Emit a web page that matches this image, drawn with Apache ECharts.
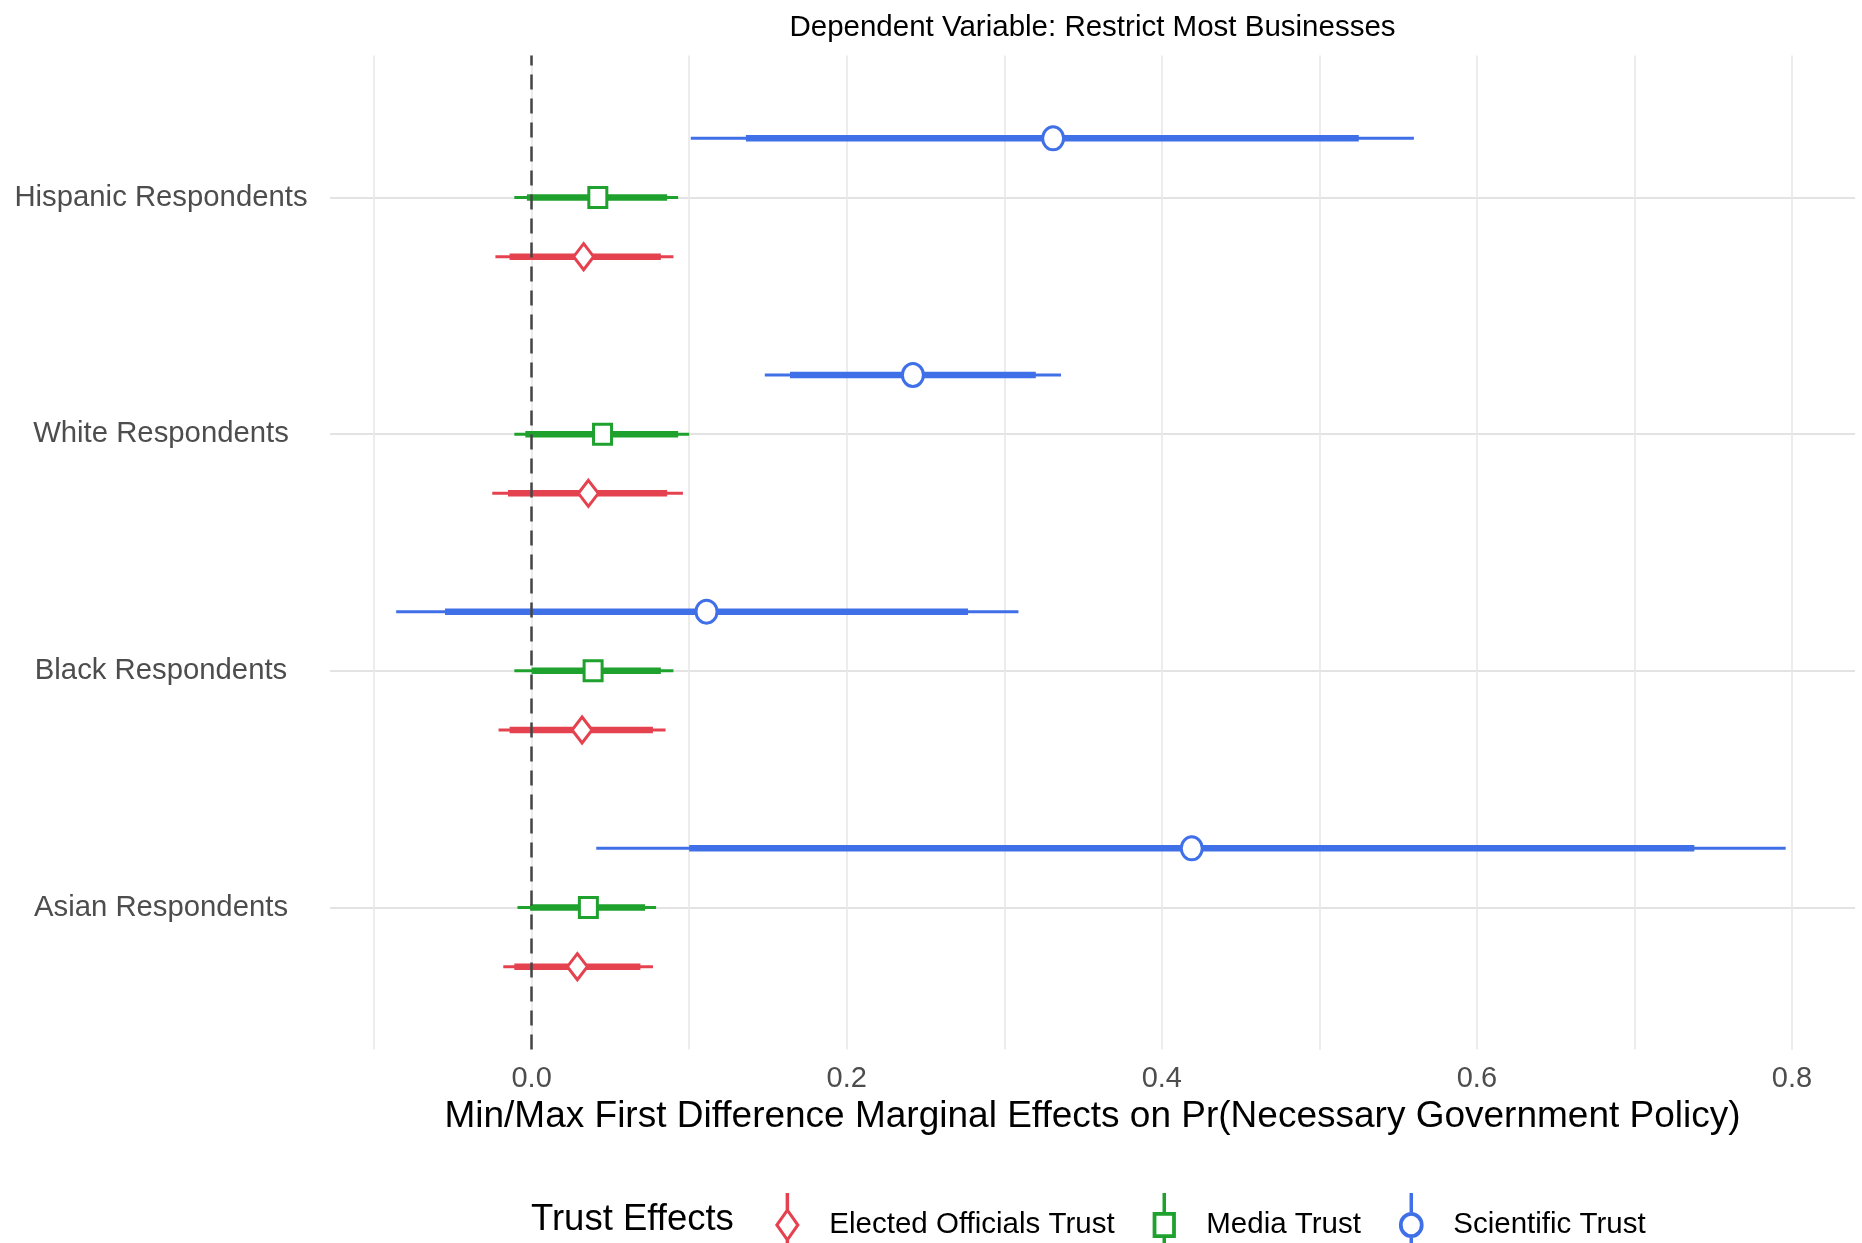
<!DOCTYPE html>
<html><head><meta charset="utf-8">
<script src="https://cdn.jsdelivr.net/npm/echarts@6/dist/echarts.min.js"></script>
<style>html,body{margin:0;padding:0;background:#fff}#chart{width:1862px;height:1243px}</style>
</head><body><div id="chart"></div>
<script>
// ---- data ----
const groups = ['Asian Respondents', 'Black Respondents', 'White Respondents', 'Hispanic Respondents'];
const groupPos = [1, 2, 3, 4];
const xGridTicks = [-0.1, 0, 0.1, 0.2, 0.3, 0.4, 0.5, 0.6, 0.7, 0.8];
const xTickLabels = [0, 0.2, 0.4, 0.6, 0.8];
const seriesNames = ['Elected Officials Trust', 'Media Trust', 'Scientific Trust'];

const electedEst  = [0.029, 0.032, 0.036, 0.033];
const electedLo95 = [-0.018, -0.021, -0.025, -0.023];
const electedHi95 = [0.077, 0.085, 0.096, 0.090];
const electedLo90 = [-0.011, -0.014, -0.015, -0.014];
const electedHi90 = [0.069, 0.077, 0.086, 0.082];

const mediaEst  = [0.036, 0.039, 0.045, 0.042];
const mediaLo95 = [-0.009, -0.011, -0.011, -0.011];
const mediaHi95 = [0.079, 0.090, 0.100, 0.093];
const mediaLo90 = [-0.001, 0.000, -0.004, -0.003];
const mediaHi90 = [0.072, 0.082, 0.093, 0.086];

const sciEst  = [0.419, 0.111, 0.242, 0.331];
const sciLo95 = [0.041, -0.086, 0.148, 0.101];
const sciHi95 = [0.796, 0.309, 0.336, 0.560];
const sciLo90 = [0.100, -0.055, 0.164, 0.136];
const sciHi90 = [0.738, 0.277, 0.320, 0.525];

// ---- styles ----
const colors = ['#E5424F', '#1EA12D', '#4070E8'];
const dodge = [-0.25, 0, 0.25];
const shapes = ['diamond', 'square', 'circle'];

function buildData(est, lo95, hi95, lo90, hi90) {
  return groupPos.map((p, i) => [p, est[i], lo95[i], hi95[i], lo90[i], hi90[i]]);
}

function makeRender(off, shape, color) {
  return function (params, api) {
    const y = api.value(0) + off;
    const pe = api.coord([api.value(1), y]);
    const a = api.coord([api.value(2), y]);
    const b = api.coord([api.value(3), y]);
    const c = api.coord([api.value(4), y]);
    const d = api.coord([api.value(5), y]);
    const cx = pe[0], cy = pe[1];
    let marker;
    const ms = { fill: '#fff', stroke: color, lineWidth: 3 };
    if (shape === 'circle') {
      marker = { type: 'ellipse', shape: { cx: cx, cy: cy, rx: 10.5, ry: 11.5 }, style: ms };
    } else if (shape === 'square') {
      marker = { type: 'rect', shape: { x: cx - 9, y: cy - 10, width: 18, height: 20 }, style: ms };
    } else {
      marker = { type: 'polygon', shape: { points: [[cx, cy - 13], [cx + 10, cy], [cx, cy + 13], [cx - 10, cy]] }, style: ms };
    }
    return {
      type: 'group',
      children: [
        { type: 'line', shape: { x1: a[0], y1: a[1], x2: b[0], y2: b[1] }, style: { stroke: color, lineWidth: 3 } },
        { type: 'line', shape: { x1: c[0], y1: c[1], x2: d[0], y2: d[1] }, style: { stroke: color, lineWidth: 6.5 } },
        marker
      ]
    };
  };
}

const dataSets = [
  buildData(electedEst, electedLo95, electedHi95, electedLo90, electedHi90),
  buildData(mediaEst, mediaLo95, mediaHi95, mediaLo90, mediaHi90),
  buildData(sciEst, sciLo95, sciHi95, sciLo90, sciHi90)
];

const legendIcons = [
  'path://M8.8 0L11.2 0L11.2 11.5L8.8 11.5ZM8.8 32.5L11.2 32.5L11.2 44L8.8 44ZM10 10L18.5 22L10 34L1.5 22ZM10 13.6L4.1 22L10 30.4L15.9 22Z',
  'path://M8.8 0L11.2 0L11.2 13L8.8 13ZM8.8 31L11.2 31L11.2 44L8.8 44ZM2 13L18 13L18 31L2 31ZM4.6 15.6L4.6 28.4L15.4 28.4L15.4 15.6Z',
  'path://M8.8 0L11.2 0L11.2 13L8.8 13ZM8.8 31L11.2 31L11.2 44L8.8 44ZM1.5 22A8.5 9 0 1 1 18.5 22A8.5 9 0 1 1 1.5 22ZM4.1 22A5.9 6.4 0 1 0 15.9 22A5.9 6.4 0 1 0 4.1 22Z'
];

const series = seriesNames.map((name, k) => ({
  name: name,
  type: 'custom',
  xAxisIndex: 0,
  yAxisIndex: 0,
  itemStyle: { color: colors[k] },
  renderItem: makeRender(dodge[k], shapes[k], colors[k]),
  encode: { x: [1, 2, 3, 4, 5], y: 0 },
  data: dataSets[k],
  z: 3
}));

series.push({
  name: 'zero',
  type: 'line',
  data: [],
  xAxisIndex: 0,
  yAxisIndex: 0,
  z: 5,
  markLine: {
    silent: true,
    symbol: ['none', 'none'],
    label: { show: false },
    lineStyle: { color: '#444', width: 2.5, type: [15, 9] },
    data: [{ xAxis: 0 }]
  }
});

const chart = echarts.init(document.getElementById('chart'), null, { renderer: 'canvas' });
chart.setOption({
  backgroundColor: '#fff',
  animation: false,
  textStyle: { fontFamily: 'Liberation Sans, Arial, sans-serif' },
  title: {
    text: 'Trust Effects',
    left: 531,
    top: 1201,
    padding: 0,
    textStyle: { fontSize: 36.5, fontWeight: 'normal', color: '#000' }
  },
  grid: { left: 330, right: 7, top: 55.5, bottom: 193.5, containLabel: false },
  xAxis: [{
    type: 'value',
    min: -0.128,
    max: 0.84,
    position: 'bottom',
    name: 'Min/Max First Difference Marginal Effects on Pr(Necessary Government Policy)',
    nameLocation: 'middle',
    nameGap: 49,
    nameTextStyle: { fontSize: 37, color: '#000' },
    axisLine: { show: false },
    axisTick: { show: false, customValues: xGridTicks },
    axisLabel: {
      customValues: xTickLabels,
      fontSize: 29,
      color: '#4D4D4D',
      margin: 15,
      formatter: v => Number(v).toFixed(1)
    },
    splitLine: { show: true, lineStyle: { color: '#E8E8E8', width: 1.6 } }
  }, {
    type: 'value',
    min: -0.128,
    max: 0.84,
    position: 'top',
    name: 'Dependent Variable: Restrict Most Businesses',
    nameLocation: 'middle',
    nameGap: 13,
    nameTextStyle: { fontSize: 29.5, color: '#000' },
    axisLine: { show: false },
    axisTick: { show: false },
    axisLabel: { show: false },
    splitLine: { show: false }
  }],
  yAxis: {
    type: 'value',
    min: 0.4,
    max: 4.6,
    axisLine: { show: false },
    axisTick: { show: false, customValues: groupPos },
    axisLabel: {
      customValues: groupPos,
      fontSize: 29.3,
      color: '#4D4D4D',
      align: 'center',
      margin: 169,
      formatter: v => groups[groupPos.indexOf(Math.round(v))]
    },
    splitLine: { show: true, lineStyle: { color: '#E3E3E3', width: 2 } }
  },
  legend: {
    left: 770,
    top: 1188,
    orient: 'horizontal',
    itemWidth: 30,
    itemHeight: 64,
    itemGap: 38,
    symbolKeepAspect: true,
    selectedMode: false,
    textStyle: { fontSize: 29.5, color: '#000', padding: [0, 0, 0, 22] },
    data: seriesNames.map((n, k) => ({ name: n, icon: legendIcons[k] }))
  },
  series: series
});
</script>
</body></html>
